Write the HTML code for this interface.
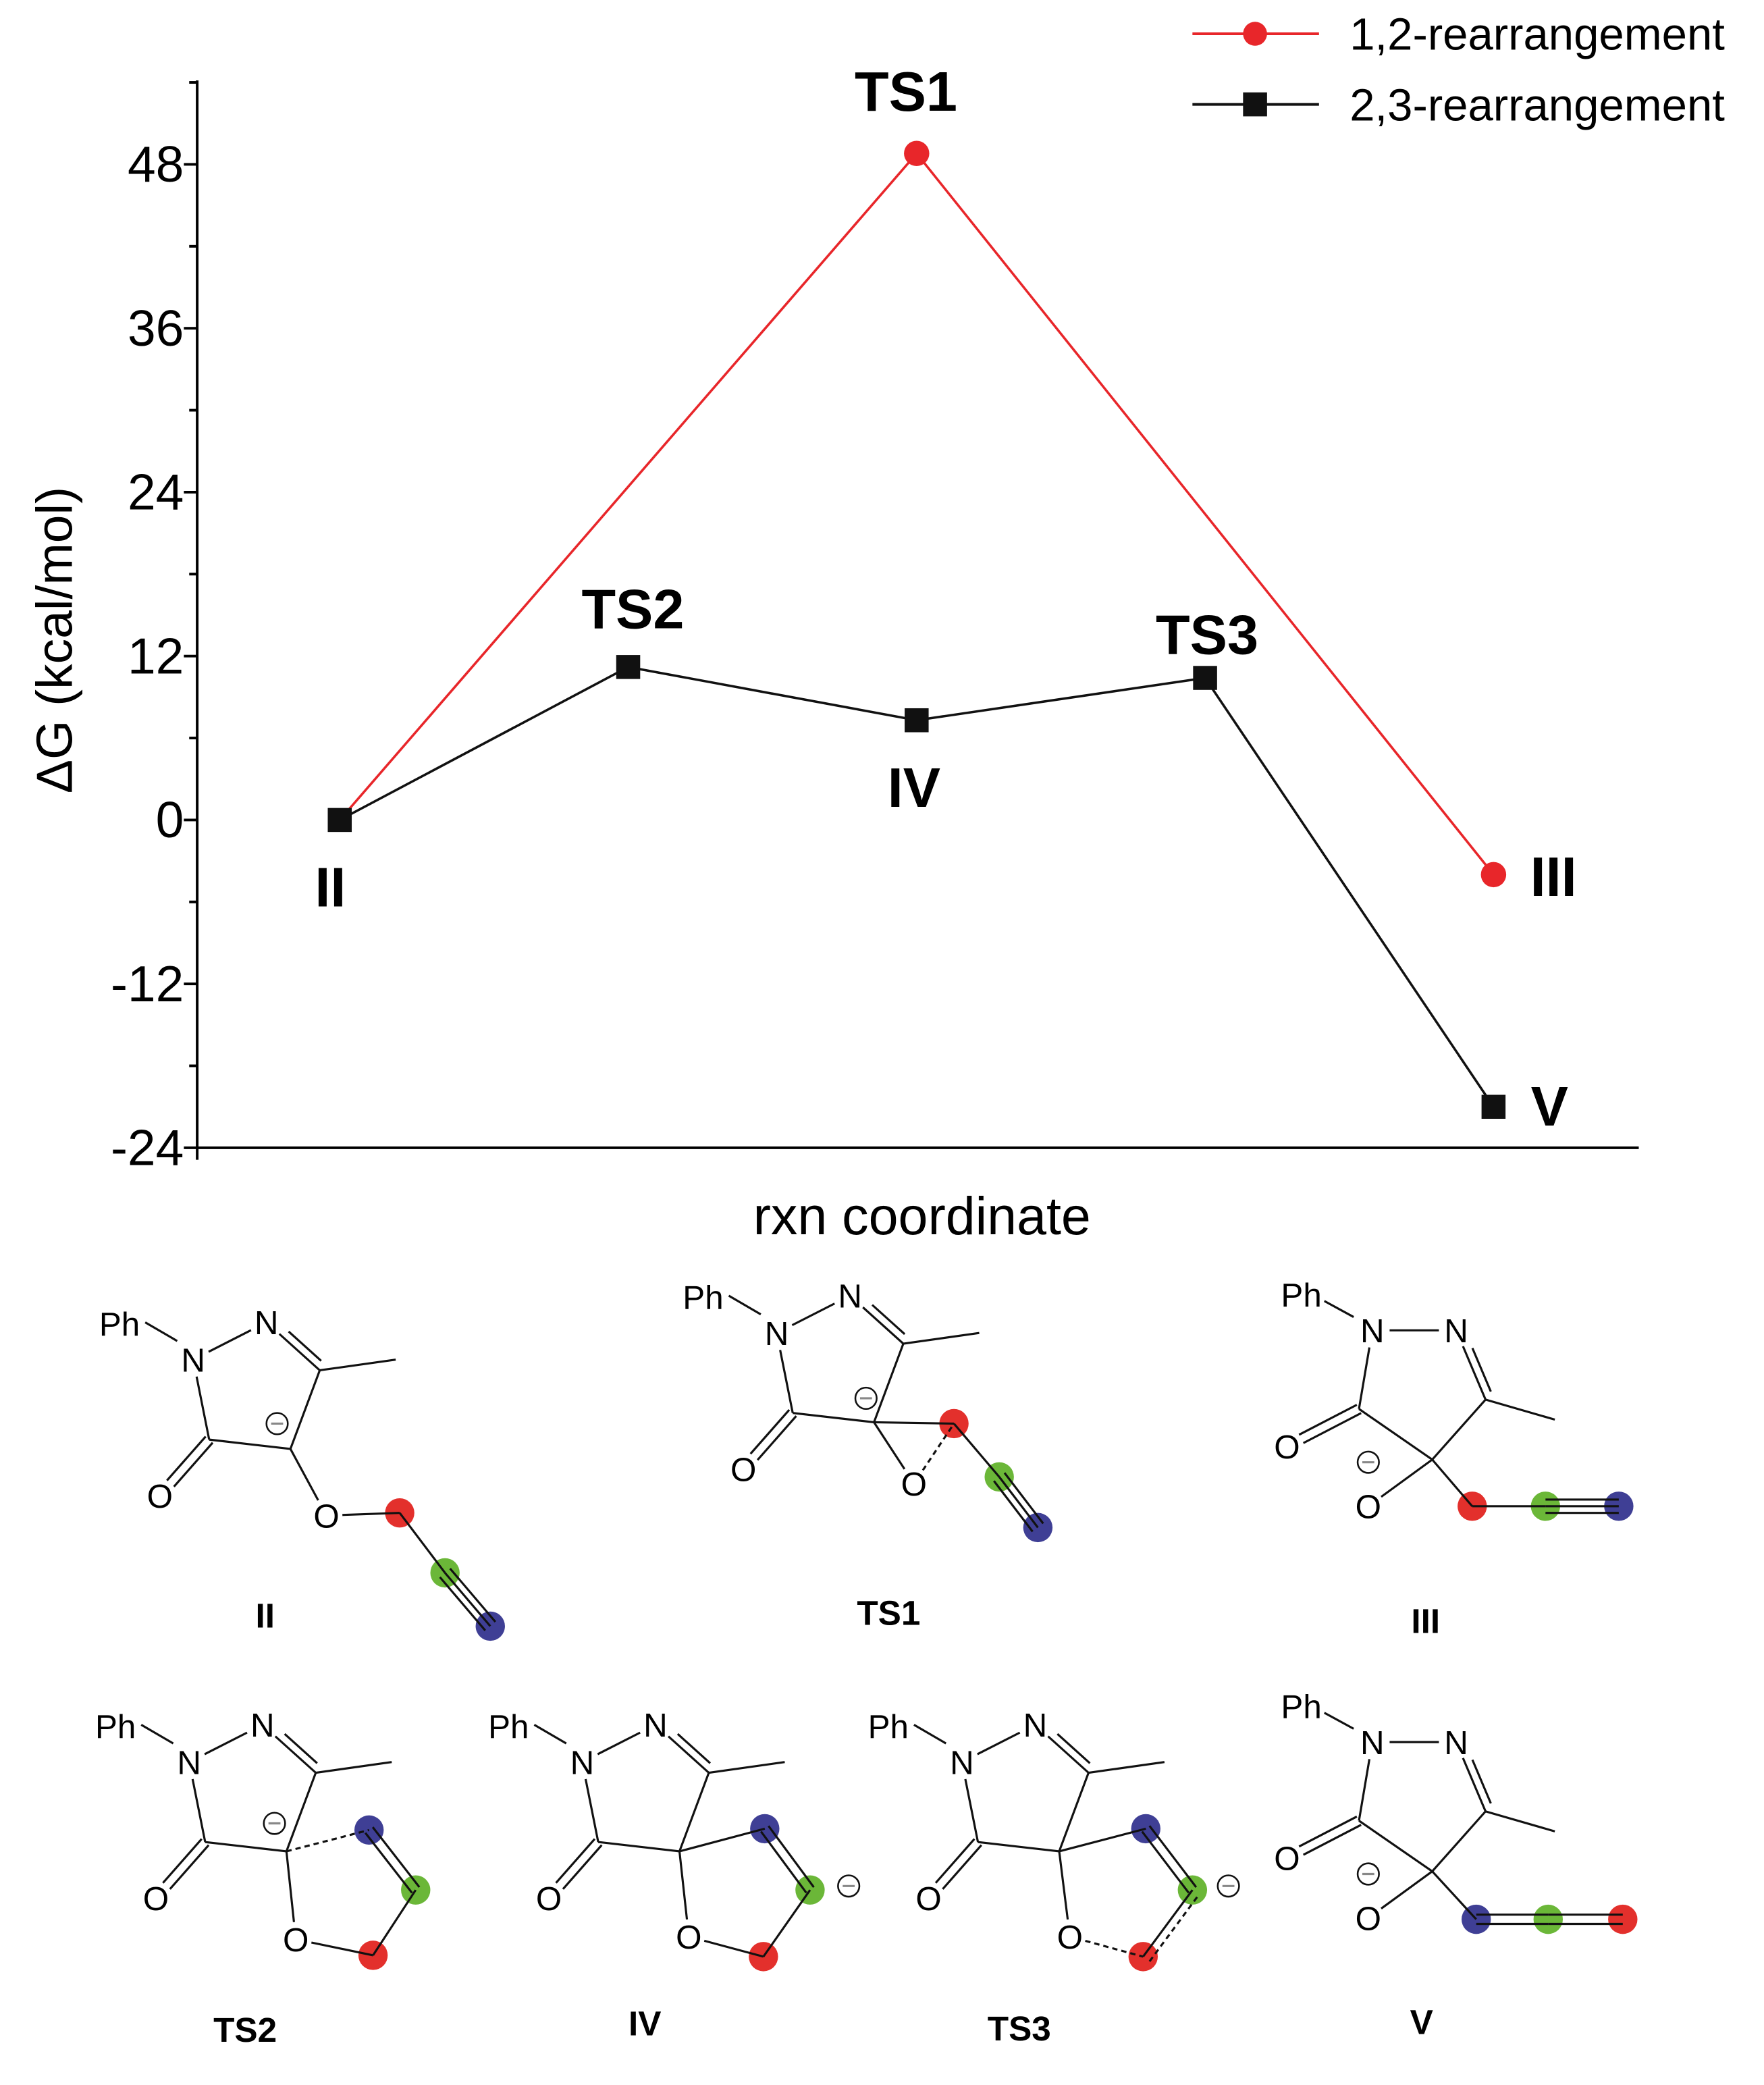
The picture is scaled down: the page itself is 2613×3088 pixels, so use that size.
<!DOCTYPE html>
<html><head><meta charset="utf-8"><style>
html,body{margin:0;padding:0;background:#fff}
svg{display:block}
text{font-family:"Liberation Sans",sans-serif}
</style></head><body>
<svg id="s" xmlns="http://www.w3.org/2000/svg" width="2613" height="3088" viewBox="0 0 1324 1564">
<rect width="1324" height="1564" fill="#fff"/>
<g id="chart"></g>
<g id="mols"></g>
</svg>
<script>
const categories = ["II","TS","IV","TS","V/III"];
const xIndex = [0,1,2,3,4];
const blackValues = [0, 11.2, 7.3, 10.4, -21.0];
const redIdx = [0, 2, 4];
const redValues = [0, 48.8, -4.0];
const yTicks = [-24,-12,0,12,24,36,48];
const yTickLabels = ["-24","-12","0","12","24","36","48"];
const pointLabels = ["II","TS2","IV","TS3","V","TS1","III"];

const NS="http://www.w3.org/2000/svg";
function mk(tag,attrs,parent,txt){const e=document.createElementNS(NS,tag);for(const k in attrs)e.setAttribute(k,attrs[k]);if(txt!==undefined)e.textContent=txt;parent.appendChild(e);return e;}
const chart=document.getElementById('chart');
const X0=148,X1=1230,YT=60;
function xs(i){return 255+i*216.5;}
function ys(v){return 615-v*10.25;}
// axes
let a=mk('line',{x1:X0,y1:YT,x2:X0,y2:ys(-24),stroke:'#000','stroke-width':2},chart);

a=mk('line',{x1:X0,y1:ys(-24),x2:X1,y2:ys(-24),stroke:'#000','stroke-width':2},chart);

mk('line',{x1:X0,y1:ys(-24),x2:X0,y2:ys(-24)+9,stroke:'#000','stroke-width':2},chart);
for(let v=-24;v<=54;v+=6){
  const maj=(v%12===0);
  if(v>54)break;
  mk('line',{x1:X0-(maj?10:6),y1:ys(v),x2:X0,y2:ys(v),stroke:'#000','stroke-width':2},chart);
}
yTicks.forEach((v,i)=>{
  const t=mk('text',{x:138,y:ys(v)+13,'text-anchor':'end','font-size':38},chart,yTickLabels[i]);
  
});
let t=mk('text',{x:0,y:0,transform:'translate(54,480) rotate(-90)','text-anchor':'middle','font-size':38},chart,'ΔG (kcal/mol)');

t=mk('text',{x:692,y:926,'text-anchor':'middle','font-size':40},chart,'rxn coordinate');

// red series
let rp=redIdx.map((ix,i)=>xs(xIndex[ix])+','+ys(redValues[i])).join(' ');
let l=mk('polyline',{points:rp,fill:'none',stroke:'#e8262a','stroke-width':1.8},chart);

let bp=xIndex.map((ix,i)=>xs(ix)+','+ys(blackValues[i])).join(' ');
l=mk('polyline',{points:bp,fill:'none',stroke:'#111','stroke-width':1.8},chart);

redIdx.forEach((ix,i)=>{if(i===0)return;
  const c=mk('circle',{cx:xs(xIndex[ix]),cy:ys(redValues[i]),r:9.5,fill:'#e8262a'},chart);
  });
xIndex.forEach((ix,i)=>{
  const r=mk('rect',{x:xs(ix)-9,y:ys(blackValues[i])-9,width:18,height:18,fill:'#111'},chart);
  });
// point labels
const lp=[[248,ys(blackValues[0])+65,'middle'],[475,ys(blackValues[1])-29,'middle'],[686,ys(blackValues[2])+65,'middle'],[906,ys(blackValues[3])-18,'middle'],[1163,ys(blackValues[4])+14,'middle'],[680,ys(redValues[1])-32,'middle'],[1166,ys(redValues[2])+16,'middle']];
pointLabels.forEach((s,i)=>{
  const e=mk('text',{x:lp[i][0],y:lp[i][1],'text-anchor':lp[i][2],'font-size':42,'font-weight':'bold'},chart,s);
  });
// legend
[[25,'#e8262a','c','1,2-rearrangement'],[78,'#111','s','2,3-rearrangement']].forEach((L,i)=>{
  const g=mk('g',{},chart);
  
  mk('line',{x1:895,y1:L[0],x2:990,y2:L[0],stroke:L[1],'stroke-width':2},g);
  if(L[2]==='c')mk('circle',{cx:942,cy:L[0],r:9,fill:L[1]},g);else mk('rect',{x:933,y:L[0]-9,width:18,height:18,fill:L[1]},g);
  mk('text',{x:1013,y:L[0]+12,'font-size':34},g,L[3]);
});

// ---------- molecules ----------
const M=document.getElementById('mols');
function ln(g,x1,y1,x2,y2,dash){mk('line',{x1,y1,x2,y2,stroke:'#111','stroke-width':1.6,'stroke-dasharray':dash?'4,3':'none'},g);}
function bond(g,A,B,sa,sb,type,side){
  const dx=B[0]-A[0],dy=B[1]-A[1],L=Math.hypot(dx,dy),ux=dx/L,uy=dy/L;
  const x1=A[0]+ux*sa,y1=A[1]+uy*sa,x2=B[0]-ux*sb,y2=B[1]-uy*sb;
  const nx=-uy,ny=ux;
  if(type===1)ln(g,x1,y1,x2,y2);
  else if(type==='d')ln(g,x1,y1,x2,y2,true);
  else if(type===2){const o=3.5*(side||1);ln(g,x1+nx*o,y1+ny*o,x2+nx*o,y2+ny*o);ln(g,x1-nx*o,y1-ny*o,x2-nx*o,y2-ny*o);}
  else if(type==='2i'){const o=6*(side||1);ln(g,x1,y1,x2,y2);ln(g,x1+nx*o+ux*4,y1+ny*o+uy*4,x2+nx*o-ux*4,y2+ny*o-uy*4);}
  else if(type==='2d'){const o=6*(side||1);ln(g,x1,y1,x2,y2);ln(g,x1+nx*o,y1+ny*o,x2+nx*o,y2+ny*o,true);}
  else if(type===3){const o=5;ln(g,x1,y1,x2,y2);ln(g,x1+nx*o,y1+ny*o,x2+nx*o,y2+ny*o);ln(g,x1-nx*o,y1-ny*o,x2-nx*o,y2-ny*o);}
}
function atom(g,p,s){mk('text',{x:p[0],y:p[1]+9,'text-anchor':'middle','font-size':25},g,s);}
function minus(g,p){mk('circle',{cx:p[0],cy:p[1],r:8,fill:'none',stroke:'#111','stroke-width':1.3},g);mk('line',{x1:p[0]-4.5,y1:p[1],x2:p[0]+4.5,y2:p[1],stroke:'#888','stroke-width':1.6},g);}
function dot(g,p,c){mk('circle',{cx:p[0],cy:p[1],r:11,fill:c},g);}
const RED='#e3302c',GRN='#6bb738',BLU='#3f3f95';
function add(p,o){return [p[0]+o[0],p[1]+o[1]];}
// template A (ring with N1 left)
function ringA(g,N1){
  const N2=add(N1,[55,-28]),C3=add(N1,[95,8]),Me=add(N1,[152,0]),C4=add(N1,[73,67]),C5=add(N1,[12,60]),O=add(N1,[-25,102]);
  atom(g,N1,'N');atom(g,N2,'N');atom(g,O,'O');
  mk('text',{x:N1[0]-40,y:N1[1]-18,'text-anchor':'end','font-size':25},g,'Ph');
  ln(g,N1[0]-36,N1[1]-28,N1[0]-12,N1[1]-14);
  bond(g,N1,N2,13,13,1);bond(g,N2,C3,13,0,'2i',-1);bond(g,C3,Me,0,0,1);bond(g,C3,C4,0,0,1);bond(g,C4,C5,0,0,1);bond(g,C5,N1,0,13,1);bond(g,C5,O,0,12,2);
  return {C4,C5};
}
// template B (N1-N2 horizontal)
function ringB(g,N1){
  const N2=add(N1,[63,0]),C3=add(N1,[85,52]),Me=add(N1,[137,67]),C4=add(N1,[45,97]),C5=add(N1,[-10,59]),O=add(N1,[-64,87]),Om=add(N1,[-3,132]);
  atom(g,N1,'N');atom(g,N2,'N');atom(g,O,'O');atom(g,Om,'O');
  mk('text',{x:N1[0]-38,y:N1[1]-18,'text-anchor':'end','font-size':25},g,'Ph');
  ln(g,N1[0]-36,N1[1]-22,N1[0]-14,N1[1]-10);
  minus(g,add(N1,[-3,99]));
  bond(g,N1,N2,13,13,1);bond(g,N2,C3,13,0,'2i',-1);bond(g,C3,Me,0,0,1);bond(g,C3,C4,0,0,1);bond(g,C4,C5,0,0,1);bond(g,C5,N1,0,13,1);bond(g,C5,O,0,12,2);bond(g,C4,Om,0,12,1);
  return {C4};
}
function label(g,p,s){const e=mk('text',{x:p[0],y:p[1]+9,'text-anchor':'middle','font-size':26,'font-weight':'bold'},g,s);}
function grp(n){const g=mk('g',{},M);return g;}
// II
let g=grp('structure-ii');
let r=ringA(g,[145,1020]);let Oe=[245,1137],R=[300,1135],G=[334,1180],B=[368,1220];
minus(g,[208,1068]);atom(g,Oe,'O');bond(g,r.C4,Oe,0,13,1);
dot(g,R,RED);dot(g,G,GRN);dot(g,B,BLU);bond(g,Oe,R,12,0,1);bond(g,R,G,0,0,1);bond(g,G,B,0,0,3);label(g,[199,1212],'II');
// TS1
g=grp('structure-ts1');
r=ringA(g,[583,1000]);Oe=[686,1113];R=[716,1068];G=[750,1108];B=[779,1146];
minus(g,[650,1049]);atom(g,Oe,'O');bond(g,r.C4,Oe,0,13,1);
dot(g,R,RED);dot(g,G,GRN);dot(g,B,BLU);bond(g,r.C4,R,0,0,1);bond(g,Oe,R,12,0,'d');bond(g,R,G,0,0,1);bond(g,G,B,0,0,3);label(g,[667,1210],'TS1');
// III
g=grp('structure-iii');
r=ringB(g,[1030,998]);R=[1105,1130];G=[1160,1130];B=[1215,1130];
dot(g,R,RED);dot(g,G,GRN);dot(g,B,BLU);bond(g,r.C4,R,0,0,1);bond(g,R,G,0,0,1);bond(g,G,B,0,0,3);label(g,[1070,1216],'III');
// V
g=grp('structure-v');
r=ringB(g,[1030,1307]);B=[1108,1440];G=[1162,1440];R=[1218,1440];
dot(g,R,RED);dot(g,G,GRN);dot(g,B,BLU);bond(g,r.C4,B,0,0,1);bond(g,B,G,0,0,2);bond(g,G,R,0,0,2);label(g,[1067,1517],'V');
// TS2
g=grp('structure-ts2');
r=ringA(g,[142,1322]);Oe=[222,1455];R=[280,1467];G=[312,1418];B=[277,1373];
minus(g,[206,1368]);atom(g,Oe,'O');bond(g,r.C4,Oe,0,13,1);
dot(g,R,RED);dot(g,G,GRN);dot(g,B,BLU);bond(g,Oe,R,12,0,1);bond(g,R,G,0,0,1);bond(g,G,B,0,0,2);bond(g,r.C4,B,0,0,'d');label(g,[184,1523],'TS2');
// IV
g=grp('structure-iv');
r=ringA(g,[437,1322]);Oe=[517,1453];R=[573,1468];G=[608,1418];B=[574,1372];
minus(g,[637,1415]);atom(g,Oe,'O');bond(g,r.C4,Oe,0,13,1);
dot(g,R,RED);dot(g,G,GRN);dot(g,B,BLU);bond(g,Oe,R,12,0,1);bond(g,R,G,0,0,1);bond(g,G,B,0,0,2);bond(g,r.C4,B,0,0,1);label(g,[484,1518],'IV');
// TS3
g=grp('structure-ts3');
r=ringA(g,[722,1322]);Oe=[803,1453];R=[858,1468];G=[895,1418];B=[860,1372];
minus(g,[922,1415]);atom(g,Oe,'O');bond(g,r.C4,Oe,0,13,1);
dot(g,R,RED);dot(g,G,GRN);dot(g,B,BLU);bond(g,Oe,R,12,0,'d');bond(g,R,G,0,0,'2d',1);bond(g,G,B,0,0,2);bond(g,r.C4,B,0,0,1);label(g,[765,1522],'TS3');
</script>
</body></html>
